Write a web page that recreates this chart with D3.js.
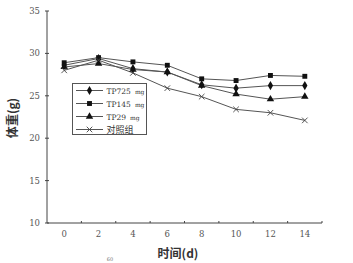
<!DOCTYPE html>
<html>
<head>
<meta charset="utf-8">
<script src="https://cdn.jsdelivr.net/npm/d3@7"></script>
<style>
  body { margin: 0; background: #fff; }
  svg { display: block; }
</style>
</head>
<body>
<div id="chart"></div>
<script>
const days = [0, 2, 4, 6, 8, 10, 12, 14];
const tp725 = [28.6, 29.4, 28.2, 27.8, 26.3, 25.9, 26.2, 26.2];
const tp145 = [28.9, 29.5, 29.0, 28.6, 27.0, 26.8, 27.4, 27.3];
const tp29 = [28.4, 28.8, 28.1, 27.8, 26.2, 25.2, 24.6, 24.9];
const control = [28.0, 29.2, 27.7, 25.9, 24.9, 23.4, 23.0, 22.1];
const seriesNames = ["TP725", "TP145", "TP29", "对照组"];
const yTicks = [10, 15, 20, 25, 30, 35];
const xLabels = [0, 2, 4, 6, 8, 10, 12, 14];
const xTickMarks = [1, 3, 5, 7, 9, 11, 13, 15];

const width = 353, height = 263;
const ink = "#444";
const serif = "DejaVu Serif";
const cjk = "Noto Sans CJK SC";

const svg = d3.select("#chart").append("svg")
    .attr("width", width)
    .attr("height", height);

const x = d3.scaleLinear().domain([-1, 15]).range([47, 322]);
const y = d3.scaleLinear().domain([10, 35]).range([223, 11]);

// Axes
svg.append("line")
    .attr("x1", x(-1)).attr("x2", x(-1))
    .attr("y1", y(35)).attr("y2", y(10))
    .attr("stroke", ink).attr("stroke-width", 1);
svg.append("line")
    .attr("x1", x(-1)).attr("x2", x(15))
    .attr("y1", y(10)).attr("y2", y(10))
    .attr("stroke", ink).attr("stroke-width", 1);

yTicks.forEach(t => {
    svg.append("line")
        .attr("x1", x(-1) - 2).attr("x2", x(-1) + 2)
        .attr("y1", y(t)).attr("y2", y(t))
        .attr("stroke", ink);
    svg.append("text")
        .attr("font-family", serif)
        .attr("font-size", 8.5)
        .attr("x", 40).attr("y", y(t) + 3)
        .attr("text-anchor", "end")
        .attr("fill", "#555")
        .text(t);
});

xTickMarks.forEach(t => {
    svg.append("line")
        .attr("x1", x(t)).attr("x2", x(t))
        .attr("y1", y(10) - 2).attr("y2", y(10))
        .attr("stroke", ink);
});

xLabels.forEach(t => {
    svg.append("text")
        .attr("font-family", serif)
        .attr("font-size", 8.5)
        .attr("x", x(t)).attr("y", 237)
        .attr("text-anchor", "middle")
        .attr("fill", "#555")
        .text(t);
});

// Axis titles
svg.append("text")
    .attr("font-family", cjk)
    .attr("font-size", 12)
    .attr("font-weight", "bold")
    .attr("x", 178).attr("y", 258)
    .attr("text-anchor", "middle")
    .attr("fill", "#333")
    .text("时间(d)");

svg.append("text")
    .attr("font-family", cjk)
    .attr("font-size", 12)
    .attr("font-weight", "bold")
    .attr("transform", "translate(17,118) rotate(-90)")
    .attr("text-anchor", "middle")
    .attr("fill", "#333")
    .text("体重(g)");

svg.append("text")
    .attr("font-family", serif)
    .attr("font-size", 5)
    .attr("x", 110).attr("y", 261)
    .attr("text-anchor", "middle")
    .attr("fill", "#777")
    .text("60");

// Series
const markers = [d3.symbolDiamond, d3.symbolSquare, d3.symbolTriangle, d3.symbolX];
const sizes = [24, 24, 24, 22];
const allSeries = [tp725, tp145, tp29, control];

const line = d3.line()
    .x((d, i) => x(days[i]))
    .y(d => y(d));

allSeries.forEach((vals, s) => {
    svg.append("path")
        .datum(vals)
        .attr("fill", "none")
        .attr("stroke", "#555")
        .attr("stroke-width", 1)
        .attr("d", line);
});

function drawMarker(s, cx, cy) {
    const isX = s === 3;
    svg.append("path")
        .attr("transform", `translate(${cx},${cy})`)
        .attr("d", d3.symbol().type(markers[s]).size(sizes[s])())
        .attr("fill", isX ? "none" : "#111")
        .attr("stroke", isX ? "#444" : "none")
        .attr("stroke-width", 0.9);
}

allSeries.forEach((vals, s) => {
    vals.forEach((v, i) => drawMarker(s, x(days[i]), y(v)));
});

// Legend
const legend = svg.append("g");
legend.append("rect")
    .attr("x", 72.5).attr("y", 83.5)
    .attr("width", 74).attr("height", 51)
    .attr("fill", "#fff")
    .attr("stroke", "#555")
    .attr("stroke-width", 1);

seriesNames.forEach((name, s) => {
    const ry = 90.5 + s * 13;
    legend.append("line")
        .attr("x1", 76).attr("x2", 103)
        .attr("y1", ry).attr("y2", ry)
        .attr("stroke", "#555");
    drawMarker(s, 89.5, ry);
    const t = legend.append("text")
        .attr("x", 106.5).attr("y", ry + 3)
        .attr("fill", "#333");
    if (s < 3) {
        t.attr("font-family", serif);
        t.append("tspan")
            .attr("font-size", 7.5)
            .text(name);
        t.append("tspan")
            .attr("dx", 4)
            .attr("font-size", 6)
            .text("mg");
    } else {
        t.attr("font-family", cjk)
            .attr("font-size", 9)
            .text(name);
    }
});
</script>
</body>
</html>
